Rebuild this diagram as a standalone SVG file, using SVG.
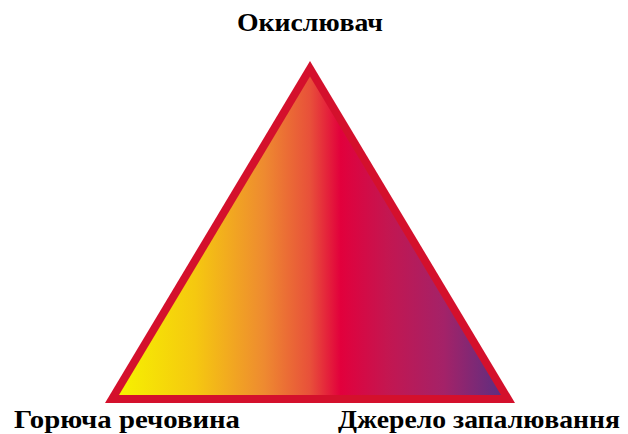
<svg xmlns="http://www.w3.org/2000/svg" width="628" height="434" viewBox="0 0 628 434">
<defs>
<linearGradient id="fire" gradientUnits="userSpaceOnUse" x1="119" y1="0" x2="501" y2="0">
<stop offset="0" stop-color="#f6f200"/>
<stop offset="0.2" stop-color="#f5c810"/>
<stop offset="0.38" stop-color="#ee8a30"/>
<stop offset="0.5" stop-color="#e8503a"/>
<stop offset="0.58" stop-color="#e2003c"/>
<stop offset="0.7" stop-color="#c41650"/>
<stop offset="0.85" stop-color="#a42268"/>
<stop offset="1" stop-color="#5e2e80"/>
</linearGradient>
</defs>
<style>
.lbl{font-family:"Liberation Serif","DejaVu Serif",serif;font-weight:bold;font-size:26px;fill:#000}
</style>
<rect width="628" height="434" fill="#fff"/>
<g id="triangle">
<polygon points="310,61 105,403 515,403" fill="#d4102c"/>
<polygon points="310,76.5 119,395 501,395" fill="url(#fire)"/>
</g>
<g id="label-oxidizer"><text class="lbl" x="237" y="31" textLength="146" lengthAdjust="spacingAndGlyphs">Окислювач</text></g>
<g id="label-fuel"><text class="lbl" x="14" y="428" textLength="226" lengthAdjust="spacingAndGlyphs">Горюча речовина</text></g>
<g id="label-ignition"><text class="lbl" x="338" y="428" textLength="282" lengthAdjust="spacingAndGlyphs">Джерело запалювання</text></g>
<g id="connectors"></g>
</svg>
